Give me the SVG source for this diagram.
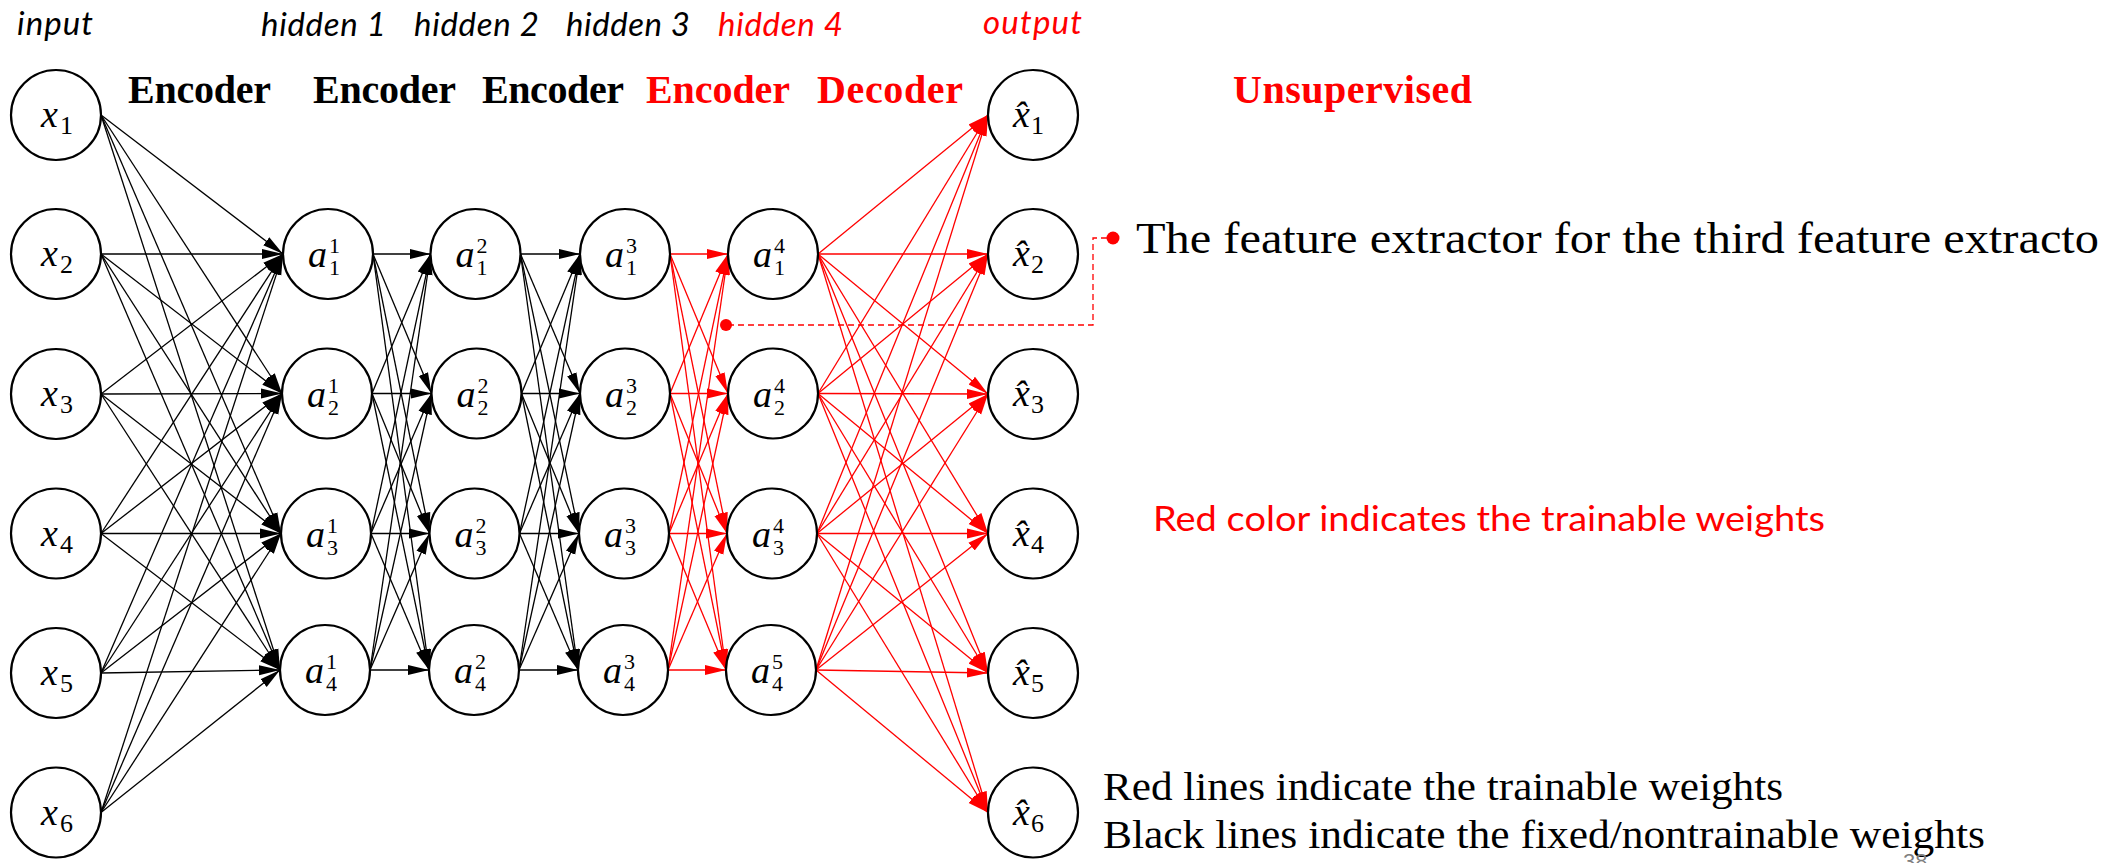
<svg xmlns="http://www.w3.org/2000/svg" width="2107" height="863" viewBox="0 0 2107 863">
  <style>
    .nd circle{fill:#fff;stroke:#000;stroke-width:2.2}
    .m{font-family:"Liberation Serif",serif;font-style:italic;font-size:38px;fill:#000}
    .s{font-family:"Liberation Serif",serif;font-size:26px;fill:#000}
    .ss{font-family:"Liberation Serif",serif;font-size:22px;fill:#000}
    .lay{font-family:Lato,"Liberation Sans",sans-serif;font-style:italic;font-size:33px}
    .enc{font-family:"Liberation Serif",serif;font-weight:bold;font-size:40px}
    .body{font-family:"Liberation Serif",serif;fill:#000}
    .red{fill:#ff0000}
    .blk{fill:#000}
    .k path{fill:none;stroke:#000;stroke-width:1.3;marker-end:url(#ak)}
    .r path{fill:none;stroke:#ff0000;stroke-width:1.3;marker-end:url(#ar)}
  </style>
  <defs>
    <marker id="ak" markerUnits="userSpaceOnUse" markerWidth="22" markerHeight="12" refX="21" refY="6" orient="auto">
      <path d="M0 1L21 6L0 11z" fill="#000"/>
    </marker>
    <marker id="ar" markerUnits="userSpaceOnUse" markerWidth="22" markerHeight="12" refX="21" refY="6" orient="auto">
      <path d="M0 1L21 6L0 11z" fill="#ff0000"/>
    </marker>
  </defs>
  <rect width="2107" height="863" fill="#fff"/>

  <!-- column titles -->
  <g id="titles">
    <text class="lay blk" x="17" y="35" textLength="76">input</text>
    <text class="lay blk" x="261" y="36" textLength="125">hidden 1</text>
    <text class="lay blk" x="414" y="36" textLength="125">hidden 2</text>
    <text class="lay blk" x="566" y="36" textLength="124">hidden 3</text>
    <text class="lay red" x="718" y="36" textLength="125">hidden 4</text>
    <text class="lay red" x="983" y="34" textLength="99">output</text>
    <text class="enc blk" x="128" y="103" textLength="143">Encoder</text>
    <text class="enc blk" x="313" y="103" textLength="143">Encoder</text>
    <text class="enc blk" x="482" y="103" textLength="142">Encoder</text>
    <text class="enc red" x="646" y="103" textLength="144">Encoder</text>
    <text class="enc red" x="817" y="103" textLength="146">Decoder</text>
    <text class="enc red" x="1233" y="103" textLength="239">Unsupervised</text>
  </g>

  <!-- weights -->
  <g id="connectors">
    <g class="k">
      <!-- input to hidden 1 -->
      <path d="M101 115L283 254"/><path d="M101 115L282 393.5"/><path d="M101 115L281 533.5"/><path d="M101 115L280 670"/>
      <path d="M101 254L283 254"/><path d="M101 254L282 393.5"/><path d="M101 254L281 533.5"/><path d="M101 254L280 670"/>
      <path d="M101 394L283 254"/><path d="M101 394L282 393.5"/><path d="M101 394L281 533.5"/><path d="M101 394L280 670"/>
      <path d="M101 533.5L283 254"/><path d="M101 533.5L282 393.5"/><path d="M101 533.5L281 533.5"/><path d="M101 533.5L280 670"/>
      <path d="M101 673L283 254"/><path d="M101 673L282 393.5"/><path d="M101 673L281 533.5"/><path d="M101 673L280 670"/>
      <path d="M101 812.5L283 254"/><path d="M101 812.5L282 393.5"/><path d="M101 812.5L281 533.5"/><path d="M101 812.5L280 670"/>
      <!-- hidden 1 to hidden 2 -->
      <path d="M373 254L430.5 254"/><path d="M373 254L431.5 393.5"/><path d="M373 254L429.5 533.5"/><path d="M373 254L429 670"/>
      <path d="M372 393.5L430.5 254"/><path d="M372 393.5L431.5 393.5"/><path d="M372 393.5L429.5 533.5"/><path d="M372 393.5L429 670"/>
      <path d="M371 533.5L430.5 254"/><path d="M371 533.5L431.5 393.5"/><path d="M371 533.5L429.5 533.5"/><path d="M371 533.5L429 670"/>
      <path d="M370 670L430.5 254"/><path d="M370 670L431.5 393.5"/><path d="M370 670L429.5 533.5"/><path d="M370 670L429 670"/>
      <!-- hidden 2 to hidden 3 -->
      <path d="M520.5 254L580 254"/><path d="M520.5 254L580 393.5"/><path d="M520.5 254L579 533.5"/><path d="M520.5 254L578 670"/>
      <path d="M521.5 393.5L580 254"/><path d="M521.5 393.5L580 393.5"/><path d="M521.5 393.5L579 533.5"/><path d="M521.5 393.5L578 670"/>
      <path d="M519.5 533.5L580 254"/><path d="M519.5 533.5L580 393.5"/><path d="M519.5 533.5L579 533.5"/><path d="M519.5 533.5L578 670"/>
      <path d="M519 670L580 254"/><path d="M519 670L580 393.5"/><path d="M519 670L579 533.5"/><path d="M519 670L578 670"/>
    </g>
    <g class="r">
      <!-- hidden 3 to hidden 4 -->
      <path d="M670 254L728 254"/><path d="M670 254L728 393.5"/><path d="M670 254L727 533.5"/><path d="M670 254L726 670"/>
      <path d="M670 393.5L728 254"/><path d="M670 393.5L728 393.5"/><path d="M670 393.5L727 533.5"/><path d="M670 393.5L726 670"/>
      <path d="M669 533.5L728 254"/><path d="M669 533.5L728 393.5"/><path d="M669 533.5L727 533.5"/><path d="M669 533.5L726 670"/>
      <path d="M668 670L728 254"/><path d="M668 670L728 393.5"/><path d="M668 670L727 533.5"/><path d="M668 670L726 670"/>
      <!-- hidden 4 to output -->
      <path d="M818 254L988 115"/><path d="M818 254L988 254"/><path d="M818 254L988 394"/><path d="M818 254L988 533.5"/><path d="M818 254L988 673"/><path d="M818 254L988 812.5"/>
      <path d="M818 393.5L988 115"/><path d="M818 393.5L988 254"/><path d="M818 393.5L988 394"/><path d="M818 393.5L988 533.5"/><path d="M818 393.5L988 673"/><path d="M818 393.5L988 812.5"/>
      <path d="M817 533.5L988 115"/><path d="M817 533.5L988 254"/><path d="M817 533.5L988 394"/><path d="M817 533.5L988 533.5"/><path d="M817 533.5L988 673"/><path d="M817 533.5L988 812.5"/>
      <path d="M816 670L988 115"/><path d="M816 670L988 254"/><path d="M816 670L988 394"/><path d="M816 670L988 533.5"/><path d="M816 670L988 673"/><path d="M816 670L988 812.5"/>
    </g>
    <!-- callout from the note to hidden 4 -->
    <g id="callout">
      <path d="M1107 238H1093V325H731" fill="none" stroke="#ff0000" stroke-width="1.3" stroke-dasharray="6 4"/>
      <circle cx="726" cy="325" r="6" fill="#ff0000"/>
      <circle cx="1113" cy="238" r="6.5" fill="#ff0000"/>
    </g>
  </g>

  <!-- input layer -->
  <g id="x1" class="nd"><circle cx="56" cy="115" r="45"/><text class="m" x="41" y="127">x</text><text class="s" x="60" y="134">1</text></g>
  <g id="x2" class="nd"><circle cx="56" cy="254" r="45"/><text class="m" x="41" y="266">x</text><text class="s" x="60" y="273">2</text></g>
  <g id="x3" class="nd"><circle cx="56" cy="394" r="45"/><text class="m" x="41" y="406">x</text><text class="s" x="60" y="413">3</text></g>
  <g id="x4" class="nd"><circle cx="56" cy="533.5" r="45"/><text class="m" x="41" y="545.5">x</text><text class="s" x="60" y="552.5">4</text></g>
  <g id="x5" class="nd"><circle cx="56" cy="673" r="45"/><text class="m" x="41" y="685">x</text><text class="s" x="60" y="692">5</text></g>
  <g id="x6" class="nd"><circle cx="56" cy="812.5" r="45"/><text class="m" x="41" y="824.5">x</text><text class="s" x="60" y="831.5">6</text></g>

  <!-- hidden 1 -->
  <g id="h1_1" class="nd"><circle cx="328" cy="254" r="45"/><text class="m" x="308" y="267">a</text><text class="ss" x="329" y="253">1</text><text class="ss" x="329" y="275">1</text></g>
  <g id="h1_2" class="nd"><circle cx="327" cy="393.5" r="45"/><text class="m" x="307" y="406.5">a</text><text class="ss" x="328" y="392.5">1</text><text class="ss" x="328" y="414.5">2</text></g>
  <g id="h1_3" class="nd"><circle cx="326" cy="533.5" r="45"/><text class="m" x="306" y="546.5">a</text><text class="ss" x="327" y="532.5">1</text><text class="ss" x="327" y="554.5">3</text></g>
  <g id="h1_4" class="nd"><circle cx="325" cy="670" r="45"/><text class="m" x="305" y="683">a</text><text class="ss" x="326" y="669">1</text><text class="ss" x="326" y="691">4</text></g>

  <!-- hidden 2 -->
  <g id="h2_1" class="nd"><circle cx="475.5" cy="254" r="45"/><text class="m" x="455.5" y="267">a</text><text class="ss" x="476.5" y="253">2</text><text class="ss" x="476.5" y="275">1</text></g>
  <g id="h2_2" class="nd"><circle cx="476.5" cy="393.5" r="45"/><text class="m" x="456.5" y="406.5">a</text><text class="ss" x="477.5" y="392.5">2</text><text class="ss" x="477.5" y="414.5">2</text></g>
  <g id="h2_3" class="nd"><circle cx="474.5" cy="533.5" r="45"/><text class="m" x="454.5" y="546.5">a</text><text class="ss" x="475.5" y="532.5">2</text><text class="ss" x="475.5" y="554.5">3</text></g>
  <g id="h2_4" class="nd"><circle cx="474" cy="670" r="45"/><text class="m" x="454" y="683">a</text><text class="ss" x="475" y="669">2</text><text class="ss" x="475" y="691">4</text></g>

  <!-- hidden 3 -->
  <g id="h3_1" class="nd"><circle cx="625" cy="254" r="45"/><text class="m" x="605" y="267">a</text><text class="ss" x="626" y="253">3</text><text class="ss" x="626" y="275">1</text></g>
  <g id="h3_2" class="nd"><circle cx="625" cy="393.5" r="45"/><text class="m" x="605" y="406.5">a</text><text class="ss" x="626" y="392.5">3</text><text class="ss" x="626" y="414.5">2</text></g>
  <g id="h3_3" class="nd"><circle cx="624" cy="533.5" r="45"/><text class="m" x="604" y="546.5">a</text><text class="ss" x="625" y="532.5">3</text><text class="ss" x="625" y="554.5">3</text></g>
  <g id="h3_4" class="nd"><circle cx="623" cy="670" r="45"/><text class="m" x="603" y="683">a</text><text class="ss" x="624" y="669">3</text><text class="ss" x="624" y="691">4</text></g>

  <!-- hidden 4 -->
  <g id="h4_1" class="nd"><circle cx="773" cy="254" r="45"/><text class="m" x="753" y="267">a</text><text class="ss" x="774" y="253">4</text><text class="ss" x="774" y="275">1</text></g>
  <g id="h4_2" class="nd"><circle cx="773" cy="393.5" r="45"/><text class="m" x="753" y="406.5">a</text><text class="ss" x="774" y="392.5">4</text><text class="ss" x="774" y="414.5">2</text></g>
  <g id="h4_3" class="nd"><circle cx="772" cy="533.5" r="45"/><text class="m" x="752" y="546.5">a</text><text class="ss" x="773" y="532.5">4</text><text class="ss" x="773" y="554.5">3</text></g>
  <g id="h4_4" class="nd"><circle cx="771" cy="670" r="45"/><text class="m" x="751" y="683">a</text><text class="ss" x="772" y="669">5</text><text class="ss" x="772" y="691">4</text></g>

  <!-- output layer -->
  <g id="y1" class="nd"><circle cx="1033" cy="115" r="45"/><text class="m" x="1013" y="127">x&#x302;</text><text class="s" x="1031" y="134">1</text></g>
  <g id="y2" class="nd"><circle cx="1033" cy="254" r="45"/><text class="m" x="1013" y="266">x&#x302;</text><text class="s" x="1031" y="273">2</text></g>
  <g id="y3" class="nd"><circle cx="1033" cy="394" r="45"/><text class="m" x="1013" y="406">x&#x302;</text><text class="s" x="1031" y="413">3</text></g>
  <g id="y4" class="nd"><circle cx="1033" cy="533.5" r="45"/><text class="m" x="1013" y="545.5">x&#x302;</text><text class="s" x="1031" y="552.5">4</text></g>
  <g id="y5" class="nd"><circle cx="1033" cy="673" r="45"/><text class="m" x="1013" y="685">x&#x302;</text><text class="s" x="1031" y="692">5</text></g>
  <g id="y6" class="nd"><circle cx="1033" cy="812.5" r="45"/><text class="m" x="1013" y="824.5">x&#x302;</text><text class="s" x="1031" y="831.5">6</text></g>

  <!-- notes -->
  <g id="notes">
    <text class="body" x="1136" y="253" font-size="44" textLength="963" lengthAdjust="spacingAndGlyphs">The feature extractor for the third feature extracto</text>
    <text x="1153" y="531" font-family="Lato,'Liberation Sans',sans-serif" font-size="35" fill="#ff0000" textLength="672" lengthAdjust="spacingAndGlyphs">Red color indicates the trainable weights</text>
    <text class="body" x="1103" y="800" font-size="39" textLength="680" lengthAdjust="spacingAndGlyphs">Red lines indicate the trainable weights</text>
    <text class="body" x="1103" y="848" font-size="39" textLength="882" lengthAdjust="spacingAndGlyphs">Black lines indicate the fixed/nontrainable weights</text>
    <text x="1903" y="869" font-family="'Liberation Sans',sans-serif" font-size="22" fill="#7f7f7f">38</text>
  </g>
</svg>
